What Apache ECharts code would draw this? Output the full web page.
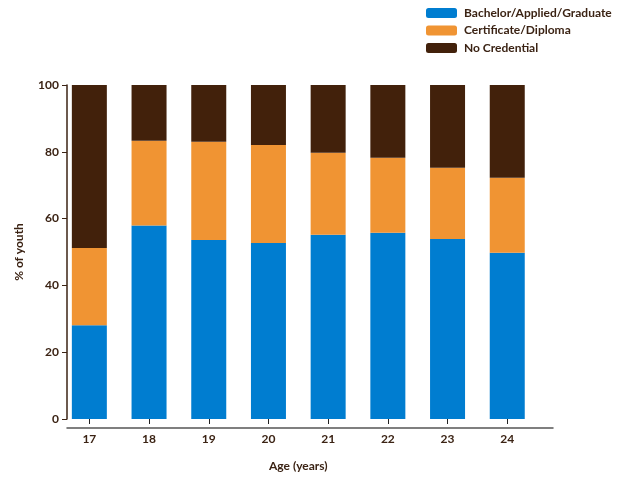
<!DOCTYPE html>
<html><head><meta charset="utf-8">
<script src="https://cdn.jsdelivr.net/npm/echarts@6/dist/echarts.min.js"></script>
<style>html,body{margin:0;padding:0;background:#fff;overflow:hidden}#c{width:621px;height:477px}</style>
</head><body><div id="c"></div>
<script>
const categories = ['17','18','19','20','21','22','23','24'];
const bachelor = [28.1, 57.9, 53.6, 52.7, 55.2, 55.8, 53.9, 49.8];
const certificate = [23.1, 25.4, 29.4, 29.3, 24.5, 22.4, 21.3, 22.4];
const noCredential = [48.8, 16.7, 17.0, 18.0, 20.3, 21.8, 24.8, 27.8];
const yTicks = [0, 20, 40, 60, 80, 100];

const txt = '#3b2314';
const font = 'Lato, "Open Sans", sans-serif';
const chart = echarts.init(document.getElementById('c'));
chart.setOption({
  animation: false,
  textStyle: {fontFamily: font},
  legend: {
    orient: 'vertical', left: 421, top: 2, itemWidth: 31, itemHeight: 10, itemGap: 5.5,
    textStyle: {color: txt, fontWeight: 'bold', fontSize: 12, fontFamily: font, padding: [0,0,0,2]},
    data: ['Bachelor/Applied/Graduate', 'Certificate/Diploma', 'No Credential']
  },
  grid: [
    {left: 59.5, width: 477.6, top: 85, height: 343},
    {left: 67, right: 68, top: 85, height: 343}
  ],
  xAxis: [
    {type: 'category', gridIndex: 0, data: categories, boundaryGap: true,
     axisLine: {show: false}, axisTick: {show: true, alignWithLabel: true, length: 5, lineStyle: {color: '#222'}},
     axisLabel: {color: txt, fontWeight: 'bold', fontSize: 12, margin: 14, fontFamily: font},
     name: 'Age (years)', nameLocation: 'middle', nameGap: 41,
     nameTextStyle: {color: txt, fontWeight: 'bold', fontSize: 12, fontFamily: font}},
    {type: 'category', gridIndex: 1, data: [''], axisLine: {show: true, lineStyle: {color: '#555', width: 1.5}},
     axisTick: {show: false}, axisLabel: {show: false}}
  ],
  yAxis: [
    {type: 'value', gridIndex: 0, min: 0, max: 100, interval: 20, offset: -7.5,
     axisLine: {show: true, lineStyle: {color: '#3b2314', width: 1.5}},
     axisTick: {show: true, length: 5, lineStyle: {color: '#3b2314'}},
     splitLine: {show: false},
     axisLabel: {color: txt, fontWeight: 'bold', fontSize: 12, margin: 8, fontFamily: font,
       formatter: v => yTicks.includes(v) ? String(v) : ''},
     name: '% of youth', nameLocation: 'middle', nameGap: 42,
     nameTextStyle: {color: txt, fontWeight: 'bold', fontSize: 12, fontFamily: font}},
    {type: 'value', gridIndex: 1, min: 0, max: 100, show: false}
  ],
  series: [
    {name: 'Bachelor/Applied/Graduate', type: 'bar', stack: 's', data: bachelor, barWidth: 35,
     itemStyle: {color: '#007dd0'}},
    {name: 'Certificate/Diploma', type: 'bar', stack: 's', data: certificate, barWidth: 35,
     itemStyle: {color: '#f09433'}},
    {name: 'No Credential', type: 'bar', stack: 's', data: noCredential, barWidth: 35,
     itemStyle: {color: '#42210b'}}
  ]
});
</script></body></html>
